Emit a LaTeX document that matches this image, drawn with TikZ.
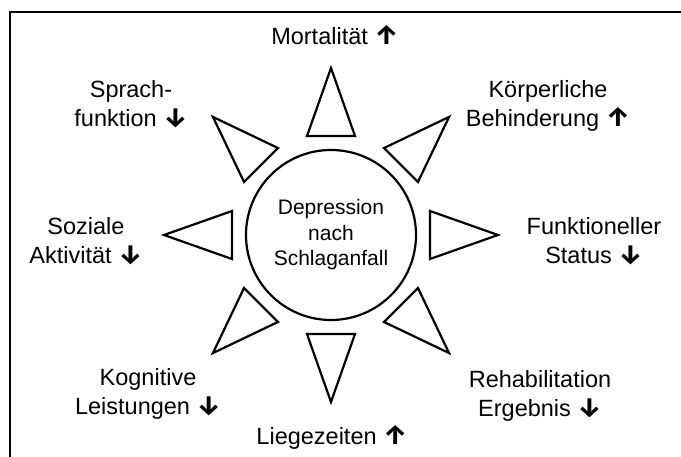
\documentclass[tikz,border=0pt]{standalone}
\usepackage{fontspec}
\setmainfont{Liberation Sans}
\newfontfamily\arrowfont{Fira Sans}
\newcommand*\upmark{{\arrowfont\bfseries\fontsize{27}{29}\selectfont ↑}}
\newcommand*\downmark{{\arrowfont\bfseries\fontsize{27}{29}\selectfont ↓}}
\usetikzlibrary{calc}
\begin{document}
\begin{tikzpicture}[x=1pt,y=-1pt,
  outline/.style={line width=2.2pt, line join=miter},
  lbl/.style={font=\fontsize{23.5}{29}\selectfont, align=center, anchor=base, inner sep=0pt},
]
\useasboundingbox (0,0) rectangle (681,457);
% frame edges
\draw[line width=1.8pt] (10,457) -- (10,12) -- (681,12);
% central circle
\node[circle, draw, line width=2.2pt, minimum size=170pt, inner sep=0pt,
      font=\fontsize{21}{25.5}\selectfont, align=center] (hub) at (331,235)
      {Depression\\nach\\Schlaganfall};
% eight outward pointing rays
\foreach \a in {0,45,...,315}{
  \draw[outline] ($(hub.center)+(\a:167pt)$)
    -- ($(hub.center)+(\a:99pt)+(\a+90:24pt)$)
    -- ($(hub.center)+(\a:99pt)+(\a-90:24pt)$) -- cycle;
}
% labels (anchored at the baseline of their last line)
\node[lbl] (mort) at (335,45) {Mortalität \upmark};
\node[lbl] (koerp) at (548,127) {Körperliche\\Behinderung \upmark};
\node[lbl] (funk) at (594,264) {Funktioneller\\Status \downmark};
\node[lbl] (reha) at (540,417) {Rehabilitation\\Ergebnis \downmark};
\node[lbl] (lieg) at (332,445) {Liegezeiten \upmark};
\node[lbl] (kogn) at (148,415) {Kognitive\\Leistungen \downmark};
\node[lbl] (soz) at (86,264) {Soziale\\Aktivität \downmark};
\node[lbl] (spr) at (131,127) {Sprach-\\funktion \downmark};
\end{tikzpicture}
\end{document}
